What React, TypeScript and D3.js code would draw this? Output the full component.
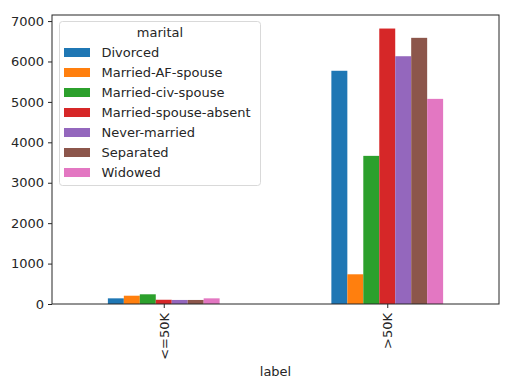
import React, { useEffect, useRef } from "react";
import * as d3 from "d3";

// Income labels on the x axis
const categories = ["<=50K", ">50K"];

// Marital status series (legend order)
const series = [
  "Divorced",
  "Married-AF-spouse",
  "Married-civ-spouse",
  "Married-spouse-absent",
  "Never-married",
  "Separated",
  "Widowed",
];

// Values per series, one per category
const divorced = [140, 5770];
const marriedAF = [205, 735];
const marriedCiv = [240, 3665];
const marriedAbsent = [105, 6815];
const neverMarried = [100, 6130];
const separated = [100, 6585];
const widowed = [140, 5075];

const yTicks = [0, 1000, 2000, 3000, 4000, 5000, 6000, 7000];

const colors = ["#1f77b4", "#ff7f0e", "#2ca02c", "#d62728", "#9467bd", "#8c564b", "#e377c2"];

const App = () => {
  const ref = useRef<SVGSVGElement>(null);

  useEffect(() => {
    const values = [divorced, marriedAF, marriedCiv, marriedAbsent, neverMarried, separated, widowed];
    const width = 512;
    const height = 389;
    const m = { left: 52, right: 13, top: 15, bottom: 85 };
    const font = "DejaVu Sans, sans-serif";
    const fs = 13;

    const svg = d3.select(ref.current).attr("width", width).attr("height", height);
    svg.selectAll("*").remove();

    // x: category index with pandas-like limits -0.5..1.5
    const x = d3.scaleLinear().domain([-0.5, categories.length - 0.5]).range([m.left, width - m.right]);
    const y = d3.scaleLinear().domain([0, 7150]).range([height - m.bottom, m.top]);

    const barW = 0.5 / series.length;

    // Bars
    values.forEach((vals, si) => {
      svg.append("g")
        .selectAll("rect")
        .data(vals)
        .join("rect")
        .attr("x", (_d, ci) => x(ci - 0.25 + si * barW))
        .attr("width", x(barW) - x(0))
        .attr("y", d => y(d))
        .attr("height", d => y(0) - y(d))
        .attr("fill", colors[si]);
    });

    // Y axis
    const yAxis = svg.append("g")
      .attr("transform", `translate(${m.left},0)`)
      .call(d3.axisLeft(y).tickValues(yTicks).tickSize(4).tickPadding(4).tickFormat(d3.format("d")));
    yAxis.select(".domain").remove();
    yAxis.selectAll("text").attr("font-family", font).attr("font-size", fs).attr("fill", "#262626");
    yAxis.selectAll("line").attr("stroke", "#262626");

    // X axis
    const xAxis = svg.append("g")
      .attr("transform", `translate(0,${height - m.bottom})`)
      .call(d3.axisBottom(x).tickValues(categories.map((_c, i) => i)).tickSize(4)
        .tickFormat((d) => categories[d as number]));
    xAxis.select(".domain").remove();
    xAxis.selectAll("line").attr("stroke", "#262626");
    xAxis.selectAll("text")
      .attr("font-family", font)
      .attr("font-size", fs)
      .attr("fill", "#262626")
      .attr("transform", "rotate(-90)")
      .attr("text-anchor", "end")
      .attr("dy", "0.35em")
      .attr("x", -9)
      .attr("y", 0);

    // Frame
    svg.append("rect")
      .attr("x", m.left)
      .attr("y", m.top)
      .attr("width", width - m.left - m.right)
      .attr("height", height - m.top - m.bottom)
      .attr("fill", "none")
      .attr("stroke", "#262626")
      .attr("stroke-width", 1);

    // X label
    svg.append("text")
      .attr("x", (m.left + width - m.right) / 2)
      .attr("y", 376)
      .attr("text-anchor", "middle")
      .attr("font-family", font)
      .attr("font-size", fs)
      .attr("fill", "#262626")
      .text("label");

    // Legend
    const lg = svg.append("g");
    lg.append("rect")
      .attr("x", 59.5)
      .attr("y", 21.5)
      .attr("width", 201)
      .attr("height", 164)
      .attr("rx", 3)
      .attr("fill", "white")
      .attr("fill-opacity", 0.8)
      .attr("stroke", "#d9d9d9");
    lg.append("text")
      .attr("x", 160)
      .attr("y", 32)
      .attr("dy", "0.35em")
      .attr("text-anchor", "middle")
      .attr("font-family", font)
      .attr("font-size", fs)
      .attr("fill", "#262626")
      .text("marital");
    series.forEach((s, i) => {
      const cy = 52.5 + i * 20;
      lg.append("rect")
        .attr("x", 64)
        .attr("y", cy - 4.5)
        .attr("width", 26)
        .attr("height", 9)
        .attr("fill", colors[i]);
      lg.append("text")
        .attr("x", 101.5)
        .attr("y", cy)
        .attr("dy", "0.35em")
        .attr("font-family", font)
        .attr("font-size", fs)
        .attr("fill", "#262626")
        .text(s);
    });
  }, []);

  return <svg ref={ref} style={{ position: "absolute", left: 0, top: 0 }}></svg>;
};

export default App;
